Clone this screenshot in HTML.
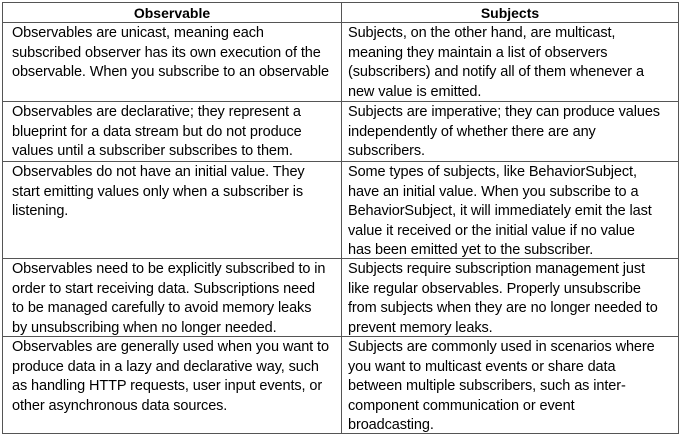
<!DOCTYPE html>
<html><head><style>
body{margin:0;width:680px;height:436px;background:#fff;position:relative;overflow:hidden;font-family:"Liberation Sans",sans-serif;color:#000}
.b{position:absolute;background:#555}
.t{position:absolute;font-size:14.5px;line-height:19.5px;white-space:nowrap;letter-spacing:-0.1px}
.h{position:absolute;font-size:14px;font-weight:bold;line-height:20px;text-align:center}
</style></head><body>
<div class="b" style="left:2px;top:2px;width:677px;height:1px"></div>
<div class="b" style="left:2px;top:22px;width:677px;height:1px"></div>
<div class="b" style="left:2px;top:101px;width:677px;height:1px"></div>
<div class="b" style="left:2px;top:161px;width:677px;height:1px"></div>
<div class="b" style="left:2px;top:258px;width:677px;height:1px"></div>
<div class="b" style="left:2px;top:336px;width:677px;height:1px"></div>
<div class="b" style="left:2px;top:433px;width:677px;height:1px"></div>
<div class="b" style="left:2px;top:2px;width:1px;height:432px"></div>
<div class="b" style="left:341px;top:2px;width:1px;height:432px"></div>
<div class="b" style="left:678px;top:2px;width:1px;height:432px"></div>

<div class="h" style="left:3px;top:3px;width:338px">Observable</div>
<div class="h" style="left:342px;top:3px;width:336px">Subjects</div>

<div class="t" style="left:12px;top:24px">Observables are unicast, meaning each<br>subscribed observer has its own execution of the<br>observable. When you subscribe to an observable</div>
<div class="t" style="left:348px;top:24px">Subjects, on the other hand, are multicast,<br>meaning they maintain a list of observers<br>(subscribers) and notify all of them whenever a<br>new value is emitted.</div>

<div class="t" style="left:12px;top:103px">Observables are declarative; they represent a<br>blueprint for a data stream but do not produce<br>values until a subscriber subscribes to them.</div>
<div class="t" style="left:348px;top:103px">Subjects are imperative; they can produce values<br>independently of whether there are any<br>subscribers.</div>

<div class="t" style="left:12px;top:163px">Observables do not have an initial value. They<br>start emitting values only when a subscriber is<br>listening.</div>
<div class="t" style="left:348px;top:163px">Some types of subjects, like BehaviorSubject,<br>have an initial value. When you subscribe to a<br>BehaviorSubject, it will immediately emit the last<br>value it received or the initial value if no value<br>has been emitted yet to the subscriber.</div>

<div class="t" style="left:12px;top:260px">Observables need to be explicitly subscribed to in<br>order to start receiving data. Subscriptions need<br>to be managed carefully to avoid memory leaks<br>by unsubscribing when no longer needed.</div>
<div class="t" style="left:348px;top:260px">Subjects require subscription management just<br>like regular observables. Properly unsubscribe<br>from subjects when they are no longer needed to<br>prevent memory leaks.</div>

<div class="t" style="left:12px;top:338px">Observables are generally used when you want to<br>produce data in a lazy and declarative way, such<br>as handling HTTP requests, user input events, or<br>other asynchronous data sources.</div>
<div class="t" style="left:348px;top:338px">Subjects are commonly used in scenarios where<br>you want to multicast events or share data<br>between multiple subscribers, such as inter-<br>component communication or event<br>broadcasting.</div>
</body></html>
